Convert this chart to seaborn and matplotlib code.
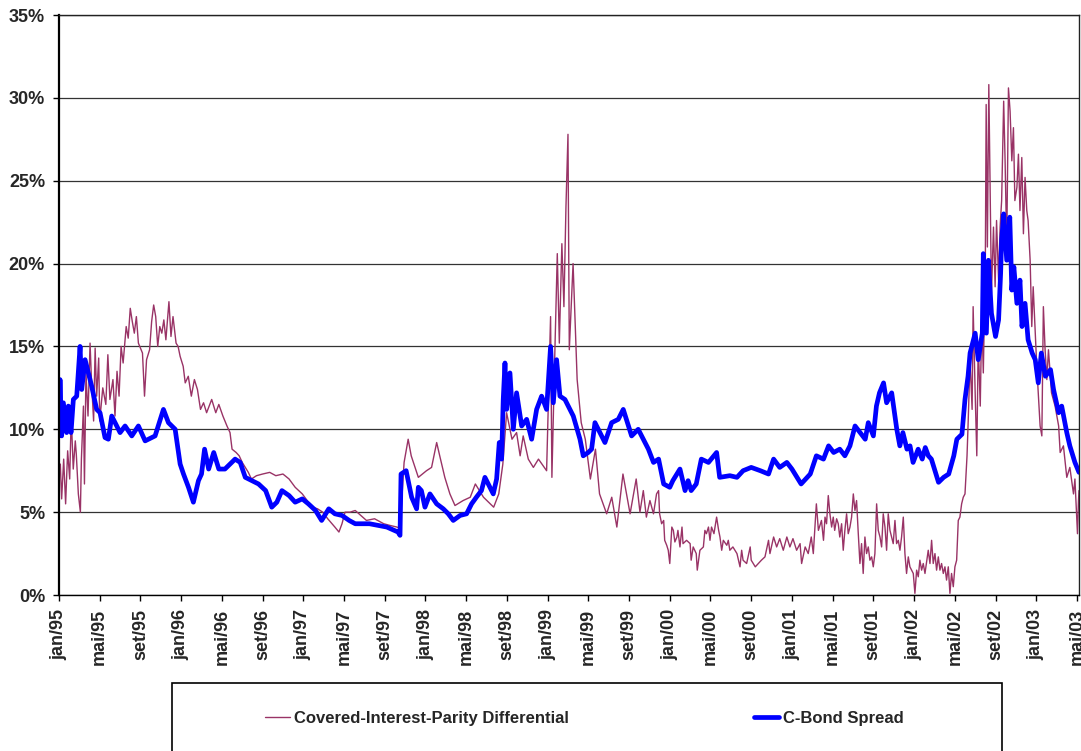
import matplotlib
matplotlib.use("Agg")
import matplotlib.pyplot as plt
import seaborn as sns
import pandas as pd
from matplotlib.patches import Rectangle

# rótulos do eixo x (a cada 4 meses desde jan/95)
tick_labels = ["jan/95", "mai/95", "set/95", "jan/96", "mai/96", "set/96", "jan/97",
               "mai/97", "set/97", "jan/98", "mai/98", "set/98", "jan/99", "mai/99",
               "set/99", "jan/00", "mai/00", "set/00", "jan/01", "mai/01", "set/01",
               "jan/02", "mai/02", "set/02", "jan/03", "mai/03"]
tick_months = [4 * i for i in range(len(tick_labels))]

# C-Bond spread (%), meses desde jan/95
cbond_t = [0.0, 0.1, 0.26, 0.43, 0.75, 0.92, 1.18, 1.41, 1.74, 2.07, 2.23, 2.56, 2.89, 3.21,
           3.7, 4.03, 4.52, 4.85, 5.18, 5.51, 6.0, 6.49, 7.15, 7.8, 8.46, 9.11, 9.44, 10.26,
           10.75, 11.41, 11.9, 12.23, 12.72, 13.2, 13.7, 14.0, 14.3, 14.7, 15.2, 15.7, 16.3,
           16.8, 17.3, 17.8, 18.3, 18.95, 19.6, 20.3, 20.9, 21.4, 21.9, 22.6, 23.2, 23.9,
           24.5, 25.2, 25.8, 26.5, 27.1, 27.8, 28.5, 29.1,
           30.5, 32.2, 33.3, 33.5, 33.6, 34.1, 34.64, 35.13, 35.3, 35.6, 35.95, 36.44, 37.1,
           37.75, 38.24, 38.73, 39.4, 40.04, 40.53, 41.0, 41.5, 41.84, 42.33, 42.66, 42.99,
           43.25, 43.48, 43.64, 43.81, 43.97, 44.3, 44.63, 44.95, 45.45, 45.94, 46.43, 46.92,
           47.41, 47.9, 48.29, 48.56, 48.88, 49.21, 49.7, 50.19, 50.52, 51.18, 51.5, 51.99,
           52.32, 52.65, 53.14, 53.63, 54.29, 54.94, 55.43,
           56.25, 56.9, 57.4, 57.9, 58.4, 58.9, 59.4, 60.0, 60.3, 61.0, 61.5, 61.8, 62.1,
           62.6, 63.1, 63.8, 64.6, 64.9, 65.9, 66.6, 67.2, 68.0, 68.9, 69.7, 70.2, 70.8,
           71.5, 72.0, 72.5, 72.9, 73.8, 74.4, 75.1, 75.6, 76.1, 76.7, 77.2, 77.7, 78.2,
           78.7, 79.2, 79.5, 80.0, 80.3, 80.6, 81.0, 81.3, 81.8, 82.3, 82.6, 82.9, 83.3,
           83.6, 83.9, 84.4, 84.8, 85.1, 85.4, 85.7, 86.1, 86.4, 86.9, 87.4, 87.9, 88.2,
           88.7, 89.0, 89.3, 89.5, 90.0, 90.3, 90.7, 90.8, 91.1, 91.3, 91.6, 92.0, 92.3,
           92.5, 92.6, 92.8, 93.1, 93.4, 93.6, 93.8, 94.1, 94.4, 94.6, 94.9, 95.2, 95.6,
           95.9, 96.2, 96.5, 96.9, 97.4, 97.7, 98.2, 98.5, 99.0, 99.3, 99.8, 100.2]
cbond_v = [9.6, 13.0, 9.6, 11.6, 9.8, 11.4, 9.8, 11.8, 12.0, 15.0, 12.4, 14.2, 13.4, 12.6,
           11.2, 11.0, 9.5, 9.4, 10.8, 10.4, 9.8, 10.2, 9.6, 10.2, 9.3, 9.5, 9.6, 11.2,
           10.4, 10.0, 7.9, 7.3, 6.5, 5.6, 6.9, 7.3, 8.8, 7.6, 8.6, 7.6, 7.6,
           7.9, 8.2, 8.0, 7.1, 6.9, 6.7, 6.3, 5.3, 5.6, 6.3, 6.0, 5.6, 5.8,
           5.5, 5.1, 4.5, 5.2, 4.9, 4.8, 4.5, 4.3,
           4.3, 4.1, 3.8, 3.6, 7.3, 7.5, 5.9, 5.2, 6.5, 6.3, 5.3, 6.1, 5.5,
           5.2, 4.9, 4.5, 4.8, 4.9, 5.5, 5.9, 6.3, 7.1, 6.5, 6.1, 7.0,
           9.2, 8.2, 11.8, 14.0, 11.2, 13.4, 10.0, 12.2, 10.2, 10.6, 9.4, 11.2,
           12.0, 11.2, 15.0, 11.6, 14.2, 12.0, 11.8, 11.2, 10.8, 9.4, 8.4, 8.6,
           8.8, 10.4, 9.8, 9.2, 10.4, 10.6, 11.2,
           9.6, 10.0, 9.4, 8.8, 8.0, 8.2, 6.7, 6.5, 6.9, 7.6, 6.3, 6.9, 6.3,
           6.7, 8.2, 8.0, 8.6, 7.1, 7.2, 7.1, 7.5, 7.7, 7.5, 7.3, 8.2, 7.7,
           8.0, 7.6, 7.1, 6.7, 7.3, 8.4, 8.2, 9.0, 8.6, 8.8, 8.4, 9.0, 10.2,
           9.8, 9.4, 10.4, 9.6, 11.4, 12.2, 12.8, 11.6, 12.2, 10.0, 9.0, 9.8, 8.8,
           9.0, 8.0, 8.8, 8.2, 8.9, 8.4, 8.2, 7.4, 6.8, 7.1, 7.3, 8.4, 9.4,
           9.7, 11.8, 13.2, 14.6, 15.8, 14.2, 15.8, 20.6, 15.8, 20.2, 17.0, 15.6, 16.6,
           19.4, 21.4, 23.0, 20.2, 22.8, 18.4, 19.8, 17.6, 19.0, 16.2, 17.6, 15.4, 14.6,
           14.2, 12.8, 14.6, 13.2, 13.6, 12.4, 11.0, 11.4, 9.8, 9.0, 8.0, 7.4]

# diferencial de paridade coberta de juros (%), meses desde jan/95
cip_t = [0.0, 0.13, 0.26, 0.46, 0.65, 0.85, 1.05, 1.2, 1.4, 1.6, 1.7, 1.9, 2.1, 2.2, 2.4,
         2.5, 2.65, 2.85, 3.05, 3.2, 3.4, 3.55, 3.7, 3.9, 4.0,
         4.3, 4.6, 4.8, 5.0, 5.3, 5.5, 5.7, 5.9, 6.1, 6.3, 6.6, 6.8, 7.0, 7.2, 7.4, 7.6,
         7.8, 8.2, 8.4, 8.6, 8.9, 9.1, 9.3, 9.5, 9.7, 9.9, 10.1, 10.3, 10.5, 10.8, 11.0,
         11.2, 11.5, 11.7, 11.9, 12.2, 12.4, 12.7, 13.0, 13.3, 13.6, 13.9, 14.2, 14.5,
         15.0, 15.4, 15.7, 16.1, 16.5, 16.8, 17.0, 17.4, 17.7, 18.0, 18.6, 18.9, 19.4,
         20.0, 20.7, 21.3, 22.0, 22.6, 23.2, 23.9, 24.5, 24.9, 25.4, 25.9, 26.4, 27.1,
         27.5, 27.8, 28.1, 28.6, 29.1,
         30.2, 31.0, 31.9, 32.5, 33.2, 33.5, 33.9, 34.3, 34.6, 35.3, 36.1, 36.6, 37.1,
         37.4, 37.9, 38.4, 38.9, 39.7, 40.4, 40.9, 41.7, 42.7, 43.2, 43.6, 43.97, 44.5,
         44.95, 45.3, 45.6, 46.1, 46.6, 47.1, 47.9, 48.29, 48.42, 48.7, 48.95, 49.15,
         49.4, 49.6, 49.8, 50.0, 50.13, 50.5, 50.9, 51.3, 51.7, 52.2, 52.7, 53.1, 53.8,
         54.3, 54.8, 55.4, 56.1, 56.7,
         57.07, 57.4, 57.7, 58.05, 58.4, 58.7, 58.9, 59.0, 59.2, 59.4, 59.5, 59.7, 59.85,
         60.0, 60.2, 60.35, 60.5, 60.7, 60.8, 61.0, 61.2, 61.3, 61.65, 62.0, 62.1, 62.3,
         62.6, 62.7, 62.96, 63.3, 63.45, 63.6, 63.8, 63.95, 64.1, 64.34, 64.6, 64.8, 64.93,
         65.1, 65.26, 65.6, 65.75, 65.9, 66.2, 66.6, 66.9, 67.06, 67.2, 67.55, 67.9, 68.0,
         68.4, 68.7, 69.0, 69.35, 69.7, 69.84, 70.2, 70.5, 70.8, 71.15, 71.5, 71.8, 72.1,
         72.46, 72.8, 72.95, 73.3, 73.6, 73.9, 74.1, 74.26, 74.4, 74.6, 74.9, 75.1, 75.25,
         75.4, 75.57, 75.73, 75.9, 76.06, 76.2, 76.39, 76.55, 76.7, 76.88, 77.04, 77.2,
         77.37, 77.53, 77.7, 77.86, 78.03, 78.19, 78.35, 78.5, 78.68, 78.84, 79.0, 79.17,
         79.33, 79.5, 79.66, 79.83, 79.99, 80.15, 80.32, 80.48, 80.65, 80.81, 80.97, 81.14,
         81.3, 81.46, 81.63, 81.79, 81.95, 82.12, 82.28, 82.45, 82.61, 82.77, 82.94, 83.1,
         83.26, 83.43, 83.59, 83.76, 83.92, 84.08, 84.25, 84.41, 84.57, 84.74, 84.9, 85.07,
         85.39, 85.56, 85.72, 85.88, 86.05, 86.21, 86.38, 86.54, 86.7, 86.87, 87.03, 87.19,
         87.36, 87.52, 87.68, 87.85, 88.01, 88.18, 88.34, 88.5, 88.67, 88.83,
         89.0, 89.2, 89.3, 89.5, 89.7, 89.8, 90.0, 90.16, 90.3, 90.5, 90.65, 90.8, 91.0,
         91.08, 91.2, 91.34, 91.47, 91.6, 91.8, 91.96, 92.1, 92.3, 92.45, 92.6, 92.8,
         92.94, 93.1, 93.27, 93.43, 93.6, 93.76, 93.9, 94.1, 94.25, 94.4, 94.58, 94.74,
         94.9, 95.07, 95.2, 95.4, 95.56, 95.7, 96.05, 96.38, 96.55, 96.7, 96.87, 97.04,
         97.2, 97.5, 97.85, 98.2, 98.35, 98.67, 99.0, 99.3, 99.66, 99.8, 99.98, 100.05,
         100.15, 100.2]
cip_v = [7.6, 7.9, 5.8, 8.2, 5.5, 8.7, 7.0, 10.8, 7.6, 9.3, 8.5, 6.1, 5.0, 8.2, 11.4,
         6.7, 13.4, 10.8, 15.2, 12.8, 10.5, 14.9, 12.0, 14.3, 10.5,
         12.5, 11.5, 14.5, 11.8, 13.0, 10.8, 13.5, 12.0, 15.0, 14.0, 16.2, 15.5, 17.3, 16.5, 15.8, 16.8,
         15.2, 14.6, 12.0, 14.2, 14.8, 16.5, 17.5, 16.8, 15.0, 16.2, 15.8, 16.6, 15.4, 17.7, 15.6,
         16.8, 15.2, 15.0, 14.4, 13.8, 12.8, 13.2, 12.0, 13.0, 12.4, 11.2, 11.6, 11.0,
         11.8, 11.0, 11.5, 10.8, 10.2, 9.8, 8.8, 8.6, 8.4, 8.0, 7.4, 7.0, 7.2,
         7.3, 7.4, 7.2, 7.3, 7.0, 6.5, 6.1, 5.6, 5.3, 5.2, 5.0, 4.6, 4.1,
         3.8, 4.3, 5.0, 5.0, 5.1,
         4.5, 4.6, 4.3, 4.2, 4.1, 4.0, 8.0, 9.4, 8.4, 7.1, 7.5, 7.7, 9.2,
         8.4, 7.1, 6.1, 5.4, 5.7, 5.9, 6.7, 5.9, 5.3, 6.1, 7.9, 11.0, 9.4,
         9.8, 8.4, 9.6, 8.2, 7.7, 8.2, 7.5, 16.8, 7.1, 14.4, 20.6, 15.2,
         21.2, 17.4, 23.4, 27.8, 14.8, 20.0, 13.0, 10.4, 9.4, 7.0, 8.8, 6.1, 4.9,
         5.9, 4.1, 7.3, 4.9, 7.0,
         5.0, 6.3, 4.7, 5.7, 4.9, 6.1, 6.3, 4.9, 4.3, 4.5, 3.3, 3.0, 2.7,
         1.9, 4.1, 3.9, 3.2, 3.5, 3.9, 2.9, 4.1, 3.1, 3.3, 3.1, 2.1, 2.9,
         2.5, 1.5, 2.7, 2.9, 3.9, 3.7, 4.1, 3.3, 4.1, 3.7, 4.7, 3.9, 3.5,
         2.7, 3.3, 3.0, 3.3, 2.7, 2.9, 2.5, 1.7, 2.7, 2.1, 1.9, 2.9, 2.1,
         1.7, 1.9, 2.1, 2.3, 3.3, 2.5, 3.5, 2.9, 3.4, 2.7, 3.5, 2.9, 3.4,
         2.7, 3.1, 1.9, 2.9, 2.5, 3.5, 2.5, 4.1, 5.5, 3.9, 4.5, 3.3, 4.7,
         4.3, 6.0, 4.9, 4.1, 4.7, 3.9, 4.6, 4.3, 3.5, 4.3, 2.7, 3.9,
         4.9, 3.7, 4.1, 4.7, 6.1, 5.1, 5.7, 3.9, 1.9, 3.1, 1.3, 3.5,
         2.5, 2.9, 2.1, 2.3, 1.7, 2.5, 5.5, 3.9, 3.5, 2.9, 4.9, 4.1,
         2.7, 4.9, 3.9, 3.5, 3.1, 4.5, 3.1, 3.3, 2.7, 3.5, 4.7, 2.5,
         1.3, 2.3, 1.7, 1.5, 1.3, 0.1, 1.5, 1.1, 2.1, 1.5, 1.9, 1.3,
         2.7, 1.9, 3.3, 1.9, 2.5, 1.5, 2.3, 1.5, 1.9, 1.3, 1.7, 0.9,
         1.7, 0.1, 1.3, 0.5, 1.7, 2.1, 4.5, 4.7, 5.5, 5.9,
         6.1, 8.4, 10.2, 14.2, 11.2, 17.4, 12.2, 8.4, 15.2, 11.4, 17.0, 13.4, 20.2,
         29.6, 21.0, 30.8, 24.6, 18.2, 22.2, 18.6, 22.6, 19.0, 22.2, 23.8, 29.8,
         26.2, 21.0, 30.6, 29.2, 26.2, 28.2, 23.8, 24.6, 26.6, 23.2, 26.4, 21.8,
         25.2, 23.2, 22.6, 20.2, 16.2, 18.6, 13.8, 10.2, 9.6, 17.4, 14.8, 13.0,
         14.8, 12.2, 11.4, 10.2, 8.6, 9.0, 7.1, 7.7, 6.1, 7.0, 4.7, 3.7,
         5.7, 6.3]

sns.set_style("white")
plt.rcParams["font.family"] = ["Liberation Sans", "DejaVu Sans"]
plt.rcParams["font.weight"] = "bold"

W, H = 1081, 751
fig = plt.figure(figsize=(W / 100, H / 100), dpi=100)
ax = fig.add_axes([59 / W, 1 - 595 / H, (1079 - 59) / W, (595 - 15) / H])

cip = pd.DataFrame({"mes": cip_t, "valor": cip_v})
cbond = pd.DataFrame({"mes": cbond_t, "valor": cbond_v})

sns.lineplot(data=cip, x="mes", y="valor", ax=ax, color="#993366", linewidth=1.0,
             estimator=None, sort=False, label="Covered-Interest-Parity Differential")
sns.lineplot(data=cbond, x="mes", y="valor", ax=ax, color="#0000FF", linewidth=3.4,
             estimator=None, sort=False, label="C-Bond Spread")

ax.set_xlim(0, 100.2)
ax.set_ylim(0, 35)
ax.set_xlabel("")
ax.set_ylabel("")

ax.set_yticks(range(0, 36, 5))
ax.set_yticklabels([f"{v}%" for v in range(0, 36, 5)], fontsize=13, fontweight="bold")
ax.set_xticks(tick_months)
ax.set_xticklabels(tick_labels, rotation=90, fontsize=13, fontweight="bold")
ax.tick_params(axis="both", direction="out", length=4, width=1, color="black",
               bottom=True, left=True, pad=6)

ax.grid(axis="y", color="#333333", linewidth=0.9)
ax.grid(axis="x", visible=False)
ax.set_axisbelow(True)
for side in ["top", "right"]:
    ax.spines[side].set_color("#222222")
    ax.spines[side].set_linewidth(1.0)
ax.spines["left"].set_color("black")
ax.spines["left"].set_linewidth(1.6)
ax.spines["bottom"].set_color("black")
ax.spines["bottom"].set_linewidth(1.0)

# caixa da legenda abaixo do gráfico
handles, labels = ax.get_legend_handles_labels()
ax.get_legend().remove()
fig.patches.append(Rectangle((172 / W, -0.05), (1002 - 172) / W, (751 - 683) / H + 0.05,
                             transform=fig.transFigure, fill=False,
                             edgecolor="black", linewidth=1.2))
fig.legend(handles, labels, loc="center left", bbox_to_anchor=(265 / W, 1 - 718 / H),
           ncol=2, frameon=False, prop={"size": 12, "weight": "bold"},
           handlelength=1.5, handletextpad=0.25, columnspacing=11.1,
           borderpad=0, borderaxespad=0)

fig.savefig("out.png", dpi=100)
plt.close(fig)
